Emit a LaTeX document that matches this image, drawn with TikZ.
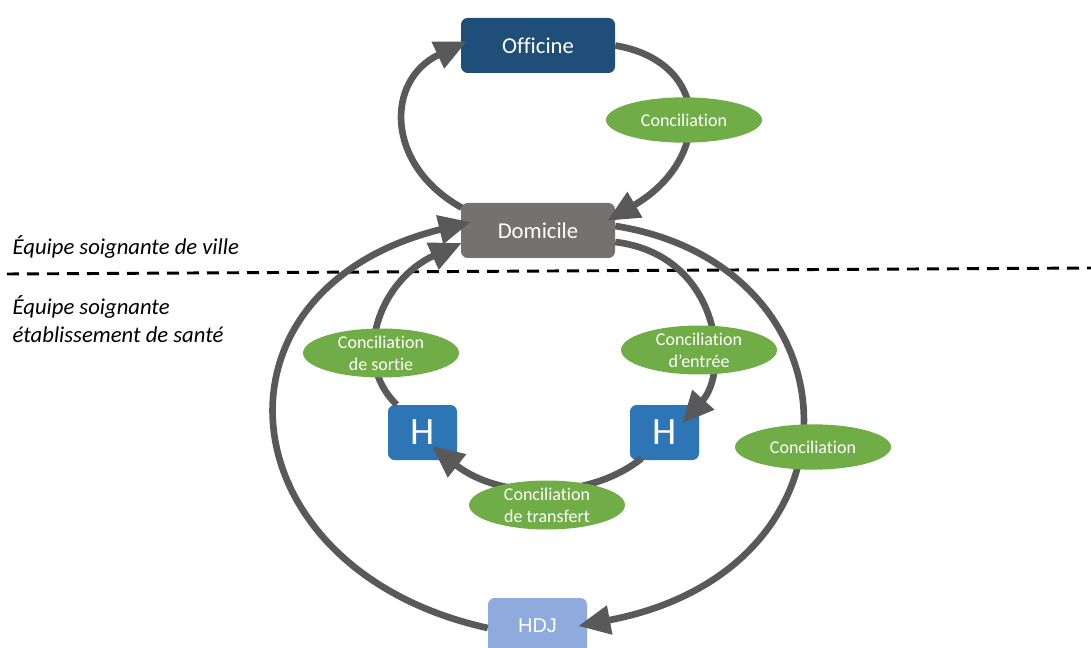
\documentclass[tikz,border=0pt]{standalone}
\usepackage{fontspec}
\setmainfont[Ligatures=NoCommon,RawFeature={-liga,-clig,-dlig}]{Carlito}
\newfontfamily\arialfont{Liberation Sans}
\usetikzlibrary{arrows.meta,shapes.geometric}
\definecolor{offblue}{HTML}{1F4E79}
\definecolor{domgray}{HTML}{767171}
\definecolor{hblue}{HTML}{2E75B6}
\definecolor{hdjblue}{HTML}{8FAADC}
\definecolor{cgreen}{HTML}{70AD47}
\definecolor{agray}{HTML}{595959}
\begin{document}
\begin{tikzpicture}[x=0.75pt,y=-0.75pt,
  box/.style={rectangle, rounded corners=5pt, inner sep=0pt, minimum height=41.25pt,
    text=white, font=\fontsize{17}{20}\selectfont},
  concil/.style={ellipse, fill=cgreen, inner sep=0pt, minimum width=117pt,
    minimum height=34pt, text=white, align=center, font=\fontsize{13.5}{16.5}\selectfont},
  conn/.style={line width=5pt, draw=agray, -{Triangle[length=24pt,width=21pt]}},
  zone/.style={anchor=west, align=left, font=\itshape\fontsize{17}{21}\selectfont}
]
\useasboundingbox (0,0) rectangle (1091,648);

% boxes
\node[box, fill=offblue, minimum width=115.5pt] (off) at (538,45.5) {Officine};
\node[box, fill=domgray, minimum width=115.5pt] (dom) at (538,230.5) {Domicile};
\node[box, fill=hblue, minimum width=51.75pt, font=\fontsize{29}{31}\selectfont] (hl) at (422.5,432.5) {H};
\node[box, fill=hblue, minimum width=51.75pt, font=\fontsize{29}{31}\selectfont] (hr) at (664.5,432.5) {H};
\node[box, fill=hdjblue, minimum width=74.25pt, font=\arialfont\fontsize{15}{18}\selectfont] (hdj) at (537.5,625.5) {HDJ};

% separator and zone labels
\coordinate (sepL) at (7,274);
\coordinate (sepR) at (1091,268);
\draw[line width=2.2pt, dash pattern=on 9pt off 6pt] (sepL) -- (sepR);
\node[zone] (ville) at (8,247) {Équipe soignante de ville};
\node[zone] (etab) at (8,319) {Équipe soignante\\établissement de santé};

% connectors
\draw[conn] ([shift={(1,5)}]dom.north west) .. controls (385,165) and (385,80) .. ([shift={(6,-4)}]off.west);
\draw[conn] (off.east) .. controls (712,62) and (712,160) .. ([shift={(-8,18)}]dom.north east);
\draw[conn] ([shift={(0,2.5)}]hdj.west) .. controls (225,570) and (195,290) .. ([shift={(10,-8.5)}]dom.west);
\draw[conn] ([shift={(0,-4.5)}]dom.east) .. controls (862,265) and (874,570) .. ([shift={(-9,0.5)}]hdj.east);
\draw[conn] ([shift={(0,11.5)}]dom.east) .. controls (720,255) and (730,370) .. ([shift={(17.5,-9)}]hr.center);
\draw[conn] ([shift={(12,-2)}]hr.south west) .. controls (590,500) and (500,500) .. ([shift={(9.5,13.5)}]hl.center);
\draw[conn] ([shift={(9,0)}]hl.north west) .. controls (350,360) and (380,280) .. ([shift={(1,12.5)}]dom.west);

% conciliation labels
\node[concil] (c1) at (684,120) {Conciliation};
\node[concil] (c2) at (381,353) {Conciliation\\de sortie};
\node[concil] (c3) at (699,350) {Conciliation\\d’entrée};
\node[concil] (c4) at (813,447) {Conciliation};
\node[concil] (c5) at (547,505) {Conciliation\\de transfert};
\end{tikzpicture}
\end{document}
